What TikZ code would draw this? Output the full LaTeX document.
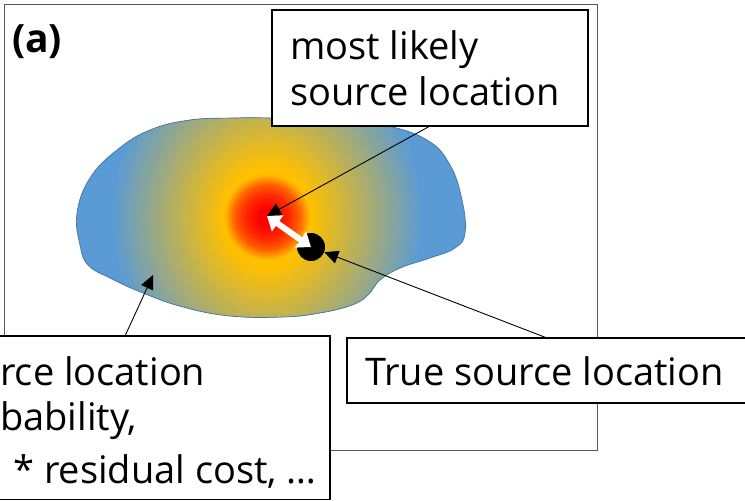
\documentclass[tikz,border=0pt]{standalone}
\usepackage{fontspec}
\setmainfont{Open Sans}
\usetikzlibrary{arrows.meta}
\definecolor{blobblue}{HTML}{5B9BD5}
\definecolor{blobyellow}{HTML}{FFC000}
\definecolor{rA}{HTML}{FF0000}
\definecolor{rB}{HTML}{FF2A00}
\definecolor{rC}{HTML}{FF6000}
\definecolor{rD}{HTML}{FFA000}
\definecolor{framegray}{HTML}{595959}
\pgfdeclareradialshading{outershade}{\pgfpoint{0bp}{0bp}}{color(0bp)=(blobyellow); color(7bp)=(blobyellow); color(25bp)=(blobblue); color(50bp)=(blobblue)}
\pgfdeclareradialshading{redshade}{\pgfpoint{0bp}{0bp}}{color(0bp)=(rA); color(5bp)=(rA); color(13bp)=(rB); color(19bp)=(rC); color(23bp)=(rD); color(25bp)=(blobyellow); color(50bp)=(blobyellow)}
\tikzset{
  labelbox/.style={draw=black, line width=1.4pt, fill=white},
  labeltext/.style={anchor=base west, inner sep=0pt, font=\fontsize{38}{45}\selectfont},
  callout/.style={draw=black, line width=0.9pt, -{Triangle[length=14pt,width=13pt]}},
  gaparrow/.style={draw=white, line width=6pt, {Triangle[length=13pt,width=19pt]}-{Triangle[length=13pt,width=19pt]}}
}
\begin{document}
\begin{tikzpicture}[x=1pt,y=-1pt]
\useasboundingbox (0,0) rectangle (745,501);
\clip (0,0) rectangle (745,501);
\fill[white] (0,0) rectangle (745,501);
% frame
\draw[framegray, line width=1pt] (4,4) rectangle (597,450);
\node[anchor=base west, inner sep=0pt, font=\fontsize{39}{45}\selectfont\bfseries] (lab) at (12,52) {(a)};
% blob
\begin{scope}
\clip plot[smooth cycle, tension=0.7] coordinates {(77,213) (90,178) (117,150) (150,130) (190,120) (233,118) (270,118) (330,120) (383,125) (427,140) (450,165) (462,200) (465,233) (455,248) (430,258) (400,268) (380,280) (368,295) (352,305) (320,313) (283,317) (230,316) (183,307) (143,293) (110,278) (88,265) (80,245)};
\fill[blobblue] (60,100) rectangle (480,330);
\shade[shading=outershade] (267,217) ellipse [x radius=155, y radius=180];
\shade[shading=redshade] (267,217) circle (43);
\end{scope}
\draw[blobblue!75!black, line width=0.7pt] plot[smooth cycle, tension=0.7] coordinates {(77,213) (90,178) (117,150) (150,130) (190,120) (233,118) (270,118) (330,120) (383,125) (427,140) (450,165) (462,200) (465,233) (455,248) (430,258) (400,268) (380,280) (368,295) (352,305) (320,313) (283,317) (230,316) (183,307) (143,293) (110,278) (88,265) (80,245)};
% points
\coordinate (redc) at (267,216);
\node[circle, fill=black, minimum size=28pt, inner sep=0pt] (dot) at (311,247) {};
\coordinate (probpt) at (153,275);
% boxes
\draw[labelbox] (272,10) rectangle (588,126);
\node[labeltext] (t1) at (290,59) {most likely};
\node[labeltext] (t2) at (290,105) {source location};
\draw[labelbox] (347,338) rectangle (770,403);
\node[labeltext] (t3) at (365,385) {True source location};
\draw[labelbox] (-20,336) rectangle (330,499.5);
\node[labeltext] (t4) at (0,385) {rce location};
\node[labeltext] (t5) at (0,430) {bability,};
\node[labeltext] (t6) at (13,483) {* residual cost, …};
% connectors
\coordinate (mlA) at (430,126);
\coordinate (tsA) at (547,338);
\coordinate (lbA) at (125,336);
\draw[callout] (mlA) -- (redc);
\draw[callout] (tsA) -- (dot);
\draw[callout] (lbA) -- (probpt);
\draw[gaparrow] (redc) -- (dot.center);
\end{tikzpicture}
\end{document}
